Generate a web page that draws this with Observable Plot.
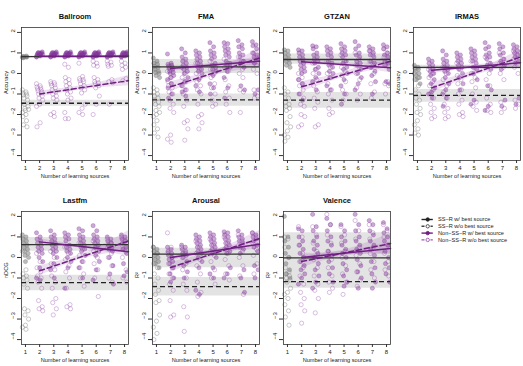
<!DOCTYPE html>
<html><head><meta charset="utf-8">
<script src="https://cdn.jsdelivr.net/npm/d3@7"></script>
<script src="https://cdn.jsdelivr.net/npm/@observablehq/plot@0.6"></script>
<style>
body{margin:0;background:#fff;}
#wrap{position:relative;width:523px;height:366px;overflow:hidden;}
#wrap svg{position:absolute;}
</style></head><body><div id="wrap"></div>
<script>
const xTicks = [1,2,3,4,5,6,7,8];
const yTicks = [-4,-3,-2,-1,0,1,2];
const panelNames = ["Ballroom","FMA","GTZAN","IRMAS","Lastfm","Arousal","Valence"];
const yLabels = ["Accuracy","Accuracy","Accuracy","Accuracy","nDCG","R²","R²"];
const xLabel = "Number of learning sources";
const legendLabels = ["SS−R w/ best source","SS−R w/o best source","Non−SS−R w/ best source","Non−SS−R w/o best source"];

// SS-R points at x = 1
const ssWithPts = [
  [0.78,0.8,0.82,0.85,0.76,0.8,0.83],
  [0.75,0.6,0.5,0.45,0.35,0.3,0.2,0.1,0.05,0.0,-0.1,-0.2],
  [1.15,1.1,1.0,0.9,0.8,0.7,0.6,0.5,0.4,0.3],
  [0.4,0.3,0.25,0.2,0.1,0.0,-0.1,-0.2,-0.3,-0.5],
  [1.1,1.0,0.9,0.8,0.7,0.6,0.5,0.4,0.3,0.2,0.1,0.0,-0.2],
  [0.5,0.4,0.3,0.2,0.1,0.0,-0.1,-0.2,-0.3,-0.5],
  [2.0,1.0,0.8,0.5,0.2,0.0,-0.3,-0.6,-0.8,-1.0]
];
const ssWithoutPts = [
  [-0.8,-0.9,-0.95,-1.0,-1.05,-1.1,-1.2,-1.3,-1.5,-1.6,-1.7,-1.75,-1.8,-1.9,-2.0,-2.1,-2.3,-2.5,-2.6],
  [-0.7,-0.8,-0.9,-1.0,-1.1,-1.2,-1.3,-1.4,-1.5,-1.6,-1.8,-1.9,-2.0,-2.1,-2.3,-2.5,-2.7,-2.9,-3.1],
  [-0.7,-0.9,-1.0,-1.2,-1.4,-1.5,-1.6,-1.7,-1.8,-2.1,-2.4,-2.6,-2.8,-3.0,-3.1,-3.3],
  [0.0,-0.2,-0.3,-0.6,-0.8,-1.0,-1.2,-1.3,-1.5,-1.7,-1.9,-2.0,-2.3,-2.5,-2.7,-2.9,-3.0],
  [0.3,-0.6,-0.8,-0.9,-1.0,-1.1,-1.3,-1.5,-2.5,-2.6,-2.8,-3.0,-3.3,-3.4,-3.5],
  [0.5,0.2,-0.3,-0.5,-0.8,-1.0,-1.3,-1.6,-1.8,-2.1,-2.2,-2.8,-3.1,-3.4,-3.7,-4.0],
  [1.0,0.9,0.5,0.0,-0.5,-0.7,-0.8,-0.9,-1.0,-1.1,-1.2,-1.5,-1.7,-1.8,-2.0,-2.3,-2.6,-2.9,-3.3]
];
// Non-SS-R points, one list per x = 2..8
const nonWithPts = [
  [[0.8,0.85,0.9,0.92,0.95,0.97,1.0,1.0,1.02,1.05,0.88,0.93,0.98,0.82,0.9],
   [0.8,0.85,0.9,0.92,0.95,0.97,1.0,1.0,1.02,1.05,0.88,0.93,0.98,0.82,0.9],
   [0.8,0.85,0.9,0.92,0.95,0.97,1.0,1.0,1.02,1.05,0.88,0.93,0.98,0.82,0.9],
   [0.8,0.85,0.9,0.92,0.95,0.97,1.0,1.0,1.02,1.05,0.88,0.93,0.98,0.82,0.9],
   [0.8,0.85,0.9,0.92,0.95,0.97,1.0,1.0,1.02,1.05,0.88,0.93,0.98,0.82,0.9],
   [0.8,0.85,0.9,0.92,0.95,0.97,1.0,1.0,1.02,1.05,0.88,0.93,0.98,0.82,0.9],
   [0.8,0.85,0.9,0.92,0.95,0.97,1.0,1.0,1.02,1.05,0.88,0.93,0.98,0.82,0.9]],
  [[0.95,0.5,0.45,0.4,0.35,0.3,0.25,0.2,0.1,0.05,0.0,-0.1,-0.2,-0.3,-0.5,-0.7,-1.0,-1.2],
   [1.2,1.0,0.8,0.7,0.6,0.5,0.4,0.3,0.2,0.1,0.0,-0.2,-0.4,-0.6,-0.8,-0.9,-1.1],
   [1.1,1.0,0.9,0.8,0.7,0.6,0.5,0.4,0.3,0.2,0.1,0.0,-0.3,-0.6,-0.9],
   [1.5,1.3,1.1,1.0,0.9,0.8,0.7,0.5,0.4,0.3,0.2,0.1,-0.1,-0.5,-0.7,-1.0],
   [1.5,1.45,1.3,1.2,1.1,1.0,0.9,0.8,0.6,0.5,0.4,0.3,0.1,-0.2,-0.7,-1.2],
   [1.6,1.4,1.3,1.2,1.0,0.9,0.8,0.6,0.5,0.3,-0.6,-0.8],
   [1.55,1.4,1.35,1.2,1.0,0.9,0.8,0.7,0.5,-0.8,-1.0]],
  [[1.15,1.1,1.0,0.9,0.8,0.7,0.6,0.5,0.4,0.3,0.2,0.1,0.0,-0.3,-0.5,-1.0,-1.3],
   [1.35,1.3,1.2,1.0,0.9,0.8,0.7,0.6,0.5,0.3,0.2,0.0,-0.2,-0.4,-0.8],
   [1.3,1.2,1.1,1.0,0.9,0.8,0.6,0.5,0.4,0.3,0.1,0.0,-0.2,-0.6,-0.8],
   [1.45,1.3,1.2,1.1,1.0,0.9,0.8,0.6,0.5,0.3,0.2,0.0,-0.3,-0.6,-1.0,-1.5],
   [1.55,1.35,1.2,1.0,0.9,0.8,0.6,0.5,0.4,0.2,0.0,-0.2,-0.5,-0.8],
   [1.3,1.2,1.1,1.0,0.9,0.8,0.6,0.5,0.3,0.1,-0.1,-0.4,-1.0],
   [1.4,1.3,1.2,1.0,0.9,0.8,0.6,0.5,0.4,0.2,-0.4,-0.5]],
  [[0.7,0.6,0.5,0.4,0.3,0.2,0.1,0.0,-0.1,-0.3,-0.5,-0.7,-0.9,-1.0,-1.2],
   [1.1,0.9,0.7,0.6,0.5,0.4,0.3,0.2,0.1,0.0,-0.2,-0.5,-0.8,-1.0,-1.2,-1.6],
   [1.0,0.9,0.8,0.7,0.6,0.5,0.4,0.3,0.2,0.0,-0.2,-0.5,-0.8],
   [1.2,1.1,1.0,0.9,0.8,0.7,0.6,0.5,0.3,0.2,0.0,-0.3,-1.3,-1.5],
   [1.5,1.3,1.2,1.0,0.9,0.8,0.7,0.5,0.4,0.2,-0.6,-0.8,-1.6,-1.8],
   [1.45,1.3,1.2,1.0,0.9,0.7,0.6,0.4,0.2,-1.3,-1.6],
   [1.4,1.3,1.2,1.1,1.0,0.9,0.8,0.6,0.5,-1.2,-1.5]],
  [[1.2,1.0,0.9,0.8,0.7,0.6,0.5,0.4,0.3,0.2,0.0,-0.2,-0.5,-1.0,-1.1],
   [1.3,1.1,1.0,0.9,0.8,0.7,0.6,0.5,0.4,0.3,0.2,0.0,-0.3,-0.6,-1.0],
   [1.2,1.1,1.0,0.9,0.8,0.6,0.5,0.4,0.3,0.2,0.0,-0.2,-0.5,-1.5],
   [1.4,1.3,1.1,1.0,0.9,0.8,0.7,0.6,0.5,0.4,0.3,0.1,-0.2,-0.5,-1.0],
   [1.55,1.3,1.1,1.0,0.9,0.8,0.7,0.6,0.5,0.3,0.1,-0.2,-0.6,-1.1],
   [1.0,0.9,0.8,0.7,0.6,0.5,0.4,0.3,0.0,-0.4,-0.8,-1.3],
   [1.1,1.0,0.9,0.8,0.7,0.5,0.4,0.2,-0.3,-0.7,-0.9]],
  [[0.5,0.4,0.3,0.2,0.1,0.0,-0.1,-0.2,-0.3,-0.5,-0.8,-1.0,-1.2],
   [0.6,0.5,0.4,0.3,0.2,0.1,0.0,-0.2,-0.4,-0.7,-1.0],
   [1.1,1.0,0.9,0.8,0.7,0.6,0.5,0.4,0.3,0.2,0.0,-0.2,-0.5,-1.6,-1.8],
   [1.2,1.1,1.0,0.9,0.8,0.7,0.6,0.5,0.4,0.3,0.2,0.0,-0.5,-0.8,-1.0],
   [1.25,1.2,1.1,1.0,0.9,0.8,0.7,0.6,0.5,0.3,0.2,-0.5,-0.8,-1.0],
   [1.3,1.1,1.0,0.9,0.8,0.7,0.5,0.4,0.2,-0.6,-1.0,-1.7],
   [1.2,1.1,1.0,0.9,0.8,0.6,0.5,0.3,-0.4,-0.6,-1.0]],
  [[1.4,1.3,1.0,0.8,0.6,0.4,0.2,0.0,-0.2,-0.4,-0.6,-0.8,-1.0,-1.3],
   [2.1,1.5,1.3,1.0,0.8,0.6,0.4,0.2,0.0,-0.3,-0.6,-0.9,-1.2,-1.5],
   [1.9,1.6,1.3,1.0,0.8,0.6,0.3,0.1,-0.2,-0.5,-0.8,-1.2],
   [1.6,1.3,1.0,0.8,0.6,0.4,0.2,0.0,-0.3,-0.6,-0.9,-1.2,-1.4],
   [2.1,1.6,1.3,1.0,0.8,0.6,0.4,0.2,-0.1,-0.4,-0.7,-1.0,-1.5],
   [1.8,1.6,1.3,1.1,0.8,0.6,0.4,0.1,-0.2,-0.5,-0.8,-1.2,-1.5],
   [1.7,1.4,1.2,1.0,0.8,0.6,0.3,0.0,-0.3,-0.5,-0.8,-1.2]]
];
const nonWithoutPts = [
  [[-0.5,-0.6,-0.65,-0.7,-0.75,-0.8,-0.85,-0.9,-1.0,-1.1,-1.2,-1.3,-1.5,-1.6,-2.4,-2.6],
   [-0.4,-0.45,-0.5,-0.55,-0.6,-0.7,-0.8,-0.9,-1.0,-1.1,-1.2,-1.3,-1.9,-2.0,-2.1],
   [0.45,0.3,-0.2,-0.3,-0.4,-0.5,-0.6,-0.7,-0.8,-0.9,-1.0,-1.2,-1.3,-1.9,-2.2,-2.2],
   [0.5,-0.15,-0.25,-0.3,-0.35,-0.4,-0.5,-0.6,-0.7,-0.8,-0.95,-1.5,-1.7,-1.9,-2.0],
   [0.6,0.5,0.4,0.35,-0.2,-0.3,-0.4,-0.45,-0.5,-0.6,-0.7,-1.1,-1.5,-2.0],
   [0.6,0.55,0.45,0.4,0.35,-0.3,-0.4,-0.45,-1.5],
   [0.6,0.5,0.4,0.3,0.2,-0.25,-0.35]],
  [[0.1,-0.2,-0.4,-0.5,-0.6,-0.7,-0.9,-1.0,-1.3,-1.5,-1.7,-1.9,-3.0,-3.2,-3.35],
   [0.3,0.0,-0.2,-0.4,-0.6,-0.8,-1.0,-1.3,-1.6,-2.3,-2.4,-2.7,-3.25],
   [0.5,0.2,0.0,-0.2,-0.4,-0.6,-0.8,-1.0,-1.5,-2.0,-2.1,-2.4,-2.7],
   [0.6,0.4,0.2,0.0,-0.2,-0.5,-0.7,-1.0,-1.3,-1.5,-1.6],
   [0.7,0.5,0.3,0.1,-0.3,-0.6,-0.9,-1.2,-1.5,-1.9],
   [0.8,0.6,0.4,0.2,0.0,-0.2,-0.8,-0.9,-1.9],
   [1.0,0.8,0.6,0.4,0.2,0.0,-0.8,-1.1,-1.2]],
  [[0.0,-0.2,-0.3,-0.5,-0.6,-0.8,-1.0,-1.2,-1.5,-1.6,-2.0,-2.1,-2.5,-2.6],
   [0.5,0.2,0.0,-0.3,-0.6,-0.9,-1.2,-1.4,-1.7,-2.5,-2.6],
   [0.6,0.3,0.0,-0.2,-0.5,-0.8,-1.0,-1.3,-1.7,-1.9,-2.0],
   [0.9,0.6,0.3,0.1,-0.1,-0.4,-0.8,-1.0,-1.3],
   [1.0,0.7,0.4,0.2,0.0,-0.3,-0.7,-1.0,-1.3],
   [1.1,0.9,0.6,0.4,0.3,0.0,-0.5,-0.9,-1.2],
   [1.2,1.0,0.8,0.6,0.4,-0.4,-0.5,-0.6,-1.0]],
  [[0.2,0.0,-0.2,-0.4,-0.6,-0.8,-1.0,-1.2,-1.5,-1.7,-1.9,-2.1,-2.2],
   [0.3,0.0,-0.3,-0.6,-0.9,-1.2,-1.5,-1.7,-1.9,-2.1,-2.2],
   [0.5,0.2,-0.1,-0.3,-0.5,-0.8,-1.0,-1.3,-1.5,-1.9,-2.0,-2.1],
   [0.6,0.3,0.0,-0.2,-0.4,-0.7,-1.0,-1.4,-1.6,-1.8],
   [0.8,0.5,0.3,0.0,-0.3,-0.6,-1.2,-1.5,-1.8,-1.9],
   [1.0,0.7,0.5,0.3,0.0,-0.3,-1.4,-1.7,-1.9],
   [1.1,0.9,0.7,0.5,0.3,0.0,-1.3,-1.5,-1.7]],
  [[0.2,-0.2,-0.5,-0.7,-0.9,-1.0,-1.2,-1.5,-2.1,-2.4,-2.5,-2.6],
   [0.3,0.0,-0.3,-0.6,-0.9,-1.2,-1.5,-2.0,-2.2,-2.5,-2.8],
   [0.5,0.2,-0.1,-0.4,-0.7,-1.0,-1.5,-2.3,-2.4,-2.5],
   [0.7,0.4,0.1,-0.2,-0.5,-0.8,-1.0,-1.4],
   [0.8,0.5,0.3,0.0,-0.3,-0.6,-1.0,-1.9],
   [0.9,0.7,0.5,0.2,0.0,-0.4,-1.0,-1.2],
   [1.0,0.8,0.6,0.3,0.0,-0.6,-1.0,-1.2]],
  [[1.2,0.5,0.2,0.0,-0.3,-0.5,-0.8,-1.0,-1.3,-1.6,-2.1,-2.8,-2.9],
   [0.5,0.2,0.0,-0.3,-0.6,-1.0,-1.3,-1.6,-2.4,-2.9,-3.6],
   [0.8,0.5,0.2,-0.1,-0.4,-0.8,-1.2,-1.7,-1.9],
   [0.9,0.6,0.3,0.1,-0.2,-0.6,-1.0,-1.3],
   [1.0,0.7,0.4,0.2,-0.1,-0.4,-0.8,-1.1],
   [1.1,0.8,0.6,0.3,0.0,-0.4,-0.9,-1.8],
   [1.2,1.0,0.7,0.4,0.1,-0.3,-0.8]],
  [[1.5,1.0,0.6,0.2,-0.2,-0.5,-0.9,-1.3,-1.7,-2.0,-2.3,-2.6,-3.2],
   [1.5,1.1,0.7,0.3,-0.1,-0.5,-0.9,-1.3,-1.6,-2.0,-2.7],
   [2.1,1.6,1.1,0.7,0.3,-0.1,-0.5,-0.9,-1.2,-1.5,-1.7],
   [1.5,1.1,0.7,0.3,0.0,-0.4,-0.8,-1.2,-1.8],
   [1.8,1.3,0.9,0.5,0.1,-0.3,-0.7,-1.1,-1.4],
   [1.6,1.2,0.9,0.5,0.2,-0.2,-0.6,-1.0],
   [1.6,1.3,1.0,0.6,0.2,-0.2,-0.6,-0.9]]
];
// SS-R mean lines [mean, bandLow, bandHigh]
const ssWithLine = [[0.82,0.79,0.85],[0.32,0.0,0.68],[0.68,0.45,0.95],[0.3,0.2,0.4],[0.63,0.3,0.97],[0.16,-0.5,0.45],[-0.02,-0.9,1.2]];
const ssWithoutLine = [[-1.45,-1.6,-1.3],[-1.29,-1.6,-1.0],[-1.3,-1.7,-0.93],[-1.07,-1.4,-0.78],[-1.23,-1.62,-0.86],[-1.42,-1.88,-0.97],[-1.18,-1.5,-0.9]];
// Non-SS-R fits [y at 2, y at right edge, band half-width at 2, middle, right edge]
const nonWithFit = [[0.84,0.85,0.04,0.02,0.05],[0.24,0.6,0.15,0.08,0.22],[0.57,0.28,0.17,0.1,0.25],[0.16,0.52,0.17,0.08,0.22],[0.76,0.28,0.17,0.08,0.23],[0.0,0.65,0.15,0.08,0.25],[0.0,0.44,0.2,0.1,0.3]];
const nonWithoutFit = [[-1.0,-0.35,0.15,0.1,0.25],[-0.65,0.75,0.25,0.15,0.45],[-0.65,0.6,0.25,0.13,0.3],[-0.7,0.8,0.25,0.13,0.35],[-0.65,0.8,0.25,0.13,0.5],[-0.49,0.92,0.25,0.13,0.4],[-0.2,0.68,0.3,0.15,0.5]];

const X_DOM = [0.72, 8.28];
const Y_DOM = [-4.24, 2.24];
const FONT = "'Liberation Sans', Arial, Helvetica, sans-serif";
const GRAY_PT = "#7a7a7a", GRAY_OPEN = "#909090", PURPLE = "#83369a", PURPLE_OPEN = "#9c5ab0", PURPLE_LINE = "#6e1f80";
const W = 131, H = 182;
const wrap = document.getElementById("wrap");

function fmt(d) { return d < 0 ? "−" + (-d) : String(d); }

function panel(p) {
  const pts = [];
  const push = (vals, x, s) => vals.forEach((v, i) => pts.push({x, y: v, s, j: (((i * 7) % 13) / 12 - 0.5) * 0.44}));
  push(ssWithPts[p], 1, "sw");
  push(ssWithoutPts[p], 1, "so");
  nonWithPts[p].forEach((vals, k) => push(vals, xTicks[k + 1], "nw"));
  nonWithoutPts[p].forEach((vals, k) => push(vals, xTicks[k + 1], "no"));
  const fit = (r) => {
    const [a, b, h1, h2, h3] = r, xm = (2 + X_DOM[1]) / 2;
    return [{x: 2, y: a, h: h1}, {x: xm, y: (a + b) / 2, h: h2}, {x: X_DOM[1], y: b, h: h3}];
  };
  const hband = (r) => X_DOM.map(x => ({x, lo: r[1], hi: r[2]}));
  const fw = fit(nonWithFit[p]), fo = fit(nonWithoutFit[p]);
  return Plot.plot({
    width: W, height: H,
    marginLeft: 21, marginRight: 3, marginTop: 27, marginBottom: 22,
    x: {domain: X_DOM},
    y: {domain: Y_DOM},
    style: {fontFamily: FONT, fontSize: "6px", background: "transparent", color: "#222"},
    marks: [
      Plot.areaY(hband(ssWithLine[p]), {x: "x", y1: "lo", y2: "hi", fill: "#000", fillOpacity: 0.11}),
      Plot.areaY(hband(ssWithoutLine[p]), {x: "x", y1: "lo", y2: "hi", fill: "#000", fillOpacity: 0.11}),
      Plot.areaY(fw, {x: "x", y1: d => d.y - d.h, y2: d => d.y + d.h, curve: "natural", fill: "#8e3fa0", fillOpacity: 0.16, clip: true}),
      Plot.areaY(fo, {x: "x", y1: d => d.y - d.h, y2: d => d.y + d.h, curve: "natural", fill: "#8e3fa0", fillOpacity: 0.16, clip: true}),
      Plot.dot(pts.filter(d => d.s === "so"), {x: d => d.x + d.j, y: "y", r: 2.1, stroke: GRAY_OPEN, strokeOpacity: 0.7, strokeWidth: 0.7}),
      Plot.dot(pts.filter(d => d.s === "sw"), {x: d => d.x + d.j, y: "y", r: 2.1, fill: GRAY_PT, fillOpacity: 0.5, stroke: GRAY_PT, strokeOpacity: 0.55, strokeWidth: 0.6}),
      Plot.dot(pts.filter(d => d.s === "no"), {x: d => d.x + d.j, y: "y", r: 2.1, stroke: PURPLE_OPEN, strokeOpacity: 0.55, strokeWidth: 0.7, clip: true}),
      Plot.dot(pts.filter(d => d.s === "nw"), {x: d => d.x + d.j, y: "y", r: 2.1, fill: PURPLE, fillOpacity: 0.42, stroke: PURPLE, strokeOpacity: 0.5, strokeWidth: 0.6, clip: true}),
      Plot.ruleY([ssWithLine[p][0]], {stroke: "#333", strokeWidth: 1.3}),
      Plot.ruleY([ssWithoutLine[p][0]], {stroke: "#222", strokeWidth: 1.3, strokeDasharray: "5,3"}),
      Plot.line(fw, {x: "x", y: "y", stroke: PURPLE_LINE, strokeWidth: 1.5}),
      Plot.line(fo, {x: "x", y: "y", stroke: PURPLE_LINE, strokeWidth: 1.5, strokeDasharray: "5,3"}),
      Plot.frame({stroke: "#333", strokeWidth: 0.8}),
      Plot.axisX({ticks: xTicks, tickSize: 3, tickPadding: 2, fontSize: 6, label: null, stroke: "#333"}),
      Plot.axisY({ticks: yTicks, tickSize: 4, tickFormat: () => "", label: null, stroke: "#333"}),
      Plot.text(yTicks, {y: d => d, frameAnchor: "left", dx: -8, rotate: -90, text: fmt, fontSize: 6, fill: "#222"}),
      Plot.text([panelNames[p]], {frameAnchor: "top", dy: -14, fontWeight: "bold", fontSize: 7.5, fill: "#111"}),
      Plot.text([xLabel], {frameAnchor: "bottom", dy: 17, fontSize: 5.6, fill: "#222"}),
      Plot.text([yLabels[p]], {frameAnchor: "left", dx: -15, rotate: -90, fontSize: 5.6, fill: "#222"})
    ]
  });
}

const colLeft = [0, 130.75, 261.5, 392.25];
const rowTop = [0, 184];
panelNames.forEach((name, p) => {
  const svg = panel(p);
  svg.style.left = colLeft[p % 4] + "px";
  svg.style.top = rowTop[Math.floor(p / 4)] + "px";
  wrap.appendChild(svg);
});

// legend in the eighth slot
const legendColors = ["#222", "#444", PURPLE_LINE, PURPLE_OPEN];
const legendDash = [null, "3,1.5", null, "3,1.5"];
const legend = Plot.plot({
  width: W, height: H, margin: 0,
  x: {type: "identity", axis: null}, y: {type: "identity", axis: null},
  style: {fontFamily: FONT, fontSize: "5.6px", background: "transparent"},
  marks: legendLabels.flatMap((lab, i) => [
    Plot.ruleY([35 + i * 6.8], {x1: 29.5, x2: 40.8, stroke: legendColors[i], strokeWidth: 1.4, strokeDasharray: legendDash[i]}),
    Plot.dot([35 + i * 6.8], {x: 35.2, y: d => d, r: 1.7, fill: i % 2 === 0 ? legendColors[i] : "white", stroke: legendColors[i], strokeWidth: 0.9}),
    Plot.text([lab], {x: 45.5, y: 35 + i * 6.8, textAnchor: "start", fontSize: 5.6, fill: "#222"})
  ])
});
legend.style.left = colLeft[3] + "px";
legend.style.top = rowTop[1] + "px";
wrap.appendChild(legend);
</script>
</body></html>
